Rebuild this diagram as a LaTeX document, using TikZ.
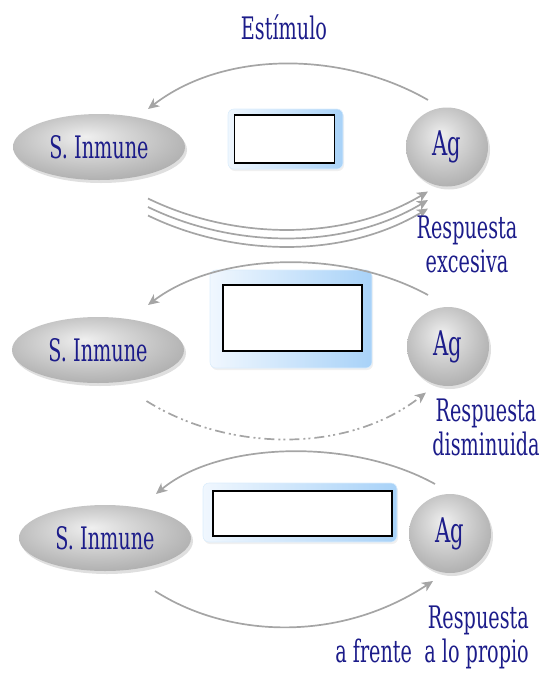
\documentclass[tikz,border=0pt]{standalone}
\usepackage{fontspec}
\newfontfamily\labfont[FakeStretch=0.62]{DejaVu Serif}
\usetikzlibrary{shapes.geometric,shadows,arrows.meta}
\definecolor{navy}{RGB}{28,28,138}
\definecolor{arrgray}{RGB}{165,165,165}
\definecolor{glowL}{RGB}{240,247,254}
\definecolor{glowR}{RGB}{168,210,248}
\pgfdeclareradialshading{softball}{\pgfpoint{-4bp}{8bp}}{%
  color(0bp)=(gray!12); color(10bp)=(gray!30); color(22bp)=(gray!50);
  color(32bp)=(gray!66); color(40bp)=(gray!80); color(50bp)=(gray!95); color(60bp)=(gray)}
\begin{document}
\begin{tikzpicture}[x=1pt,y=1pt,
  lab/.style={text=navy,font=\labfont\fontsize{31}{34}\selectfont,inner sep=0pt},
  sinode/.style={ellipse,minimum width=172pt,minimum height=66pt,inner sep=0pt,
    shading=softball,
    drop shadow={opacity=0.25,shadow xshift=2pt,shadow yshift=-3pt},
    text=navy,font=\labfont\fontsize{31}{34}\selectfont},
  agnode/.style={ellipse,minimum width=82pt,minimum height=79pt,inner sep=0pt,
    shading=softball,
    drop shadow={opacity=0.25,shadow xshift=2pt,shadow yshift=-3pt},
    text=navy,font=\labfont\fontsize{34}{34}\selectfont},
  glowbox/.style={rectangle,rounded corners=6pt,draw=glowR!40,line width=0.6pt,
    left color=glowL,right color=glowR,inner sep=0pt,
    drop shadow={opacity=0.12,shadow xshift=1pt,shadow yshift=-2pt}},
  blank/.style={rectangle,draw=black,fill=white,line width=1.4pt,inner sep=0pt},
  arr/.style={draw=arrgray,line width=1.7pt,-{Stealth[length=11pt,width=10pt,inset=3pt]}},
  arrdd/.style={arr,dash pattern=on 10pt off 4pt on 2pt off 3pt on 2pt off 4pt}
]
\useasboundingbox (0,0) rectangle (541,-673);

% ---------- row 1 ----------
\node[lab,anchor=base] (est) at (284,-39) {Estímulo};
\node[sinode] (si1) at (99,-147) {S. Inmune};
\node[agnode] (ag1) at (447,-147) {Ag};
\node[glowbox,minimum width=115pt,minimum height=60pt] (gb1) at (285.5,-139) {};
\node[blank,minimum width=100pt,minimum height=48pt] (bk1) at (284.75,-139) {};
\draw[arr] ([shift={(-19,47)}]ag1.center) .. controls +(-83,48) and +(78,60) .. ([shift={(49,38)}]si1.center);
\draw[arr] ([shift={(49,-51.5)}]si1.center) .. controls +(82,-40) and +(-87,-52) .. ([shift={(-19,-44.5)}]ag1.center);
\draw[arr] ([shift={(49,-60)}]si1.center) .. controls +(82,-40) and +(-87,-52) .. ([shift={(-19,-53)}]ag1.center);
\draw[arr] ([shift={(49,-68.5)}]si1.center) .. controls +(82,-40) and +(-87,-52) .. ([shift={(-19,-61.5)}]ag1.center);
\node[lab,align=center,anchor=base] (r1) at (467,-272) {Respuesta\\excesiva};

% ---------- row 2 ----------
\node[sinode] (si2) at (98,-350) {S. Inmune};
\node[agnode] (ag2) at (448,-346.5) {Ag};
\node[glowbox,minimum width=162pt,minimum height=98pt] (gb2) at (291,-319) {};
\node[blank,minimum width=139pt,minimum height=66pt] (bk2) at (292.5,-318) {};
\draw[arr] ([shift={(-20,51.5)}]ag2.center) .. controls +(-88,48) and +(67,51) .. ([shift={(50,45)}]si2.center);
\draw[arrdd] ([shift={(48.5,-51)}]si2.center) .. controls +(79.5,-50) and +(-80,-62.5) .. ([shift={(-22,-46)}]ag2.center);
\node[lab,align=center,anchor=base] (r2) at (486,-455) {Respuesta\\disminuida};

% ---------- row 3 ----------
\node[sinode] (si3) at (105,-538) {S. Inmune};
\node[agnode] (ag3) at (450,-533.5) {Ag};
\node[glowbox,minimum width=194pt,minimum height=59pt] (gb3) at (300,-512.5) {};
\node[blank,minimum width=179pt,minimum height=45pt] (bk3) at (302.5,-513.5) {};
\draw[arr] ([shift={(-15,49.5)}]ag3.center) .. controls +(-85,47) and +(62,52) .. ([shift={(51,44)}]si3.center);
\draw[arr] ([shift={(50,-53)}]si3.center) .. controls +(73,-47) and +(-94,-62) .. ([shift={(-17,-47.5)}]ag3.center);
\node[lab,align=right,anchor=base east] (r3) at (529,-662) {Respuesta\\a frente\ \ a lo propio};
\end{tikzpicture}
\end{document}
